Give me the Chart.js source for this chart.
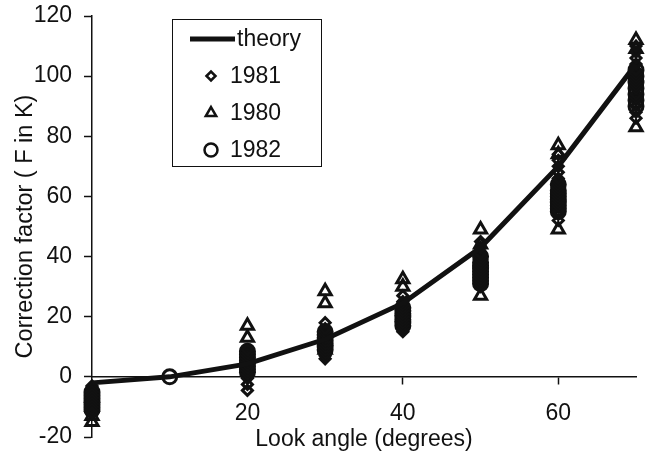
<!DOCTYPE html>
<html>
<head>
  <title>Correction factor vs look angle</title>
  <script src="https://cdn.jsdelivr.net/npm/chart.js"></script>
  <style>
    body { margin: 0; background: #fff; }
    canvas { display: block; }
  </style>
</head>
<body>
  <canvas id="chart" width="646" height="453"></canvas>

  <script>
    // look angles (degrees) where the measurements were taken
    const angles = [0, 10, 20, 30, 40, 50, 60, 70];
    const theory = [-2, 0, 4.3, 12.5, 24.5, 43, 70, 104];

    // correction factor F (K), one list per look angle
    const obs1981 = [
      [-3, -4, -5, -6, -7, -8, -9, -10, -11, -12],
      [],
      [-4.5, -2.5, -0.5, 1, 2, 3, 4, 5, 6, 7, 8, 9],
      [6, 7, 8, 9, 10, 11, 12, 13, 14, 15, 16, 18],
      [15, 16, 17, 18, 19, 20, 21, 22, 23, 24, 25, 27],
      [30, 31, 32, 33, 34, 35, 36, 37, 38, 39, 40, 41, 43, 45],
      [52, 54, 55, 57, 58, 59, 60, 61, 62, 63, 64, 65, 66, 68, 70, 72, 74],
      [86, 88, 90, 92, 93, 94, 96, 97, 98, 99, 100, 101, 102, 104, 106, 108, 110]
    ];
    const obs1980 = [
      [-15, -13, -10, -7],
      [],
      [13, 17, 6, 3],
      [24.5, 28.5, 12, 9],
      [30, 32.5, 22, 20],
      [27, 49, 44, 38],
      [49, 77, 74, 60],
      [83, 112, 109, 100]
    ];
    const obs1982 = [
      [-5, -6, -7, -8, -9, -10, -11],
      [0],
      [1.5, 2.5, 3.5, 4.5, 5.5, 6.5, 7.5, 8.5],
      [9, 10, 11, 12, 13, 14, 15],
      [17, 18, 19, 20, 21, 22, 23],
      [31, 32, 33, 34, 35, 36, 37, 38, 40],
      [55, 56, 57, 58, 59, 60, 61, 62, 64],
      [90, 92, 94, 96, 98, 100, 102]
    ];

    const xTicks = [20, 40, 60];
    const yTicks = [-20, 0, 20, 40, 60, 80, 100, 120];

    const ink = "#111";
    const fontFamily = "'Liberation Sans', Arial, sans-serif";

    function toPoints(groups) {
      return groups.flatMap((vals, i) => vals.map(v => ({ x: angles[i], y: v })));
    }

    function markerSet(label, groups, style, radius) {
      return {
        label: label,
        data: toPoints(groups),
        pointStyle: style,
        pointRadius: radius,
        pointBorderWidth: 3,
        pointBorderColor: ink,
        pointBackgroundColor: "rgba(0,0,0,0)",
        showLine: false,
        clip: false
      };
    }

    // legend box drawn inside the plot, like the original figure
    const boxLegend = {
      id: "boxLegend",
      afterDraw(chart) {
        const ctx = chart.ctx;
        ctx.save();
        ctx.strokeStyle = ink;
        ctx.lineWidth = 1;
        ctx.strokeRect(172.5, 19.5, 149, 147);
        ctx.font = "23px " + fontFamily;
        ctx.textBaseline = "middle";

        const rows = [39, 76, 113, 150];
        const legendRadius = { rectRot: 4.5, triangle: 6, circle: 6.5 };
        chart.data.datasets.forEach((ds, i) => {
          const y = rows[i];
          ctx.strokeStyle = ink;
          if (ds.showLine) {
            ctx.lineWidth = 5;
            ctx.beginPath();
            ctx.moveTo(190, y);
            ctx.lineTo(235, y);
            ctx.stroke();
            ctx.fillStyle = ink;
            ctx.fillText(ds.label, 237, y + 1);
          } else {
            ctx.lineWidth = 2.5;
            ctx.fillStyle = "#fff";
            Chart.helpers.drawPoint(ctx, {
              pointStyle: ds.pointStyle,
              radius: legendRadius[ds.pointStyle],
              borderWidth: 2.5
            }, 211, y);
            ctx.fillStyle = ink;
            ctx.fillText(ds.label, 230, y + 1);
          }
        });
        ctx.restore();
      }
    };

    const ctx = document.getElementById("chart").getContext("2d");
    new Chart(ctx, {
      type: "scatter",
      data: {
        datasets: [
          {
            label: "theory",
            data: angles.map((a, i) => ({ x: a, y: theory[i] })),
            showLine: true,
            borderColor: ink,
            borderWidth: 5,
            pointRadius: 0,
            clip: false
          },
          markerSet("1981", obs1981, "rectRot", 5),
          markerSet("1980", obs1980, "triangle", 7),
          markerSet("1982", obs1982, "circle", 7)
        ]
      },
      options: {
        responsive: false,
        animation: false,
        layout: { padding: { top: 16, right: 8, bottom: 16, left: 0 } },
        plugins: {
          legend: { display: false },
          tooltip: { enabled: false }
        },
        scales: {
          x: {
            type: "linear",
            min: 0,
            max: 70,
            position: { y: 0 },
            afterBuildTicks: scale => {
              scale.ticks = xTicks.map(v => ({ value: v }));
            },
            grid: { drawOnChartArea: false, tickLength: 7, color: ink, tickWidth: 1.5 },
            border: { color: ink, width: 1.5 },
            ticks: {
              color: ink,
              padding: 18,
              font: { family: fontFamily, size: 23, lineHeight: 1 }
            },
            title: {
              display: true,
              text: "Look angle (degrees)",
              color: ink,
              padding: { top: -17, bottom: 0 },
              font: { family: fontFamily, size: 23 }
            }
          },
          y: {
            min: -20,
            max: 120,
            afterBuildTicks: scale => {
              scale.ticks = yTicks.map(v => ({ value: v }));
            },
            afterFit: scale => {
              scale.width = 92;
            },
            grid: { drawOnChartArea: false, tickLength: 8, color: ink, tickWidth: 1.5 },
            border: { color: ink, width: 1.5 },
            ticks: {
              color: ink,
              padding: 12,
              font: { family: fontFamily, size: 23, lineHeight: 0.2 }
            },
            title: {
              display: true,
              text: "Correction factor ( F in K)",
              color: ink,
              padding: { top: 11, bottom: 0 },
              font: { family: fontFamily, size: 23.5 }
            }
          }
        }
      },
      plugins: [boxLegend]
    });
  </script>
</body>
</html>
